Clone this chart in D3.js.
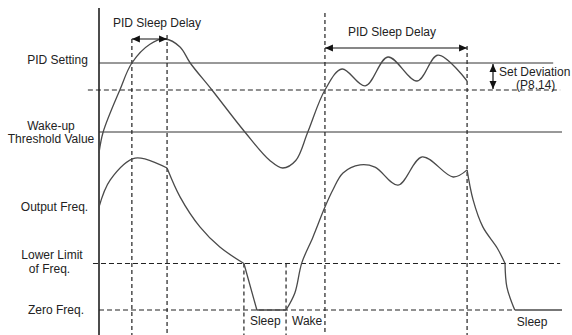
<!DOCTYPE html>
<html>
<head>
<meta charset="utf-8">
<script src="https://cdn.jsdelivr.net/npm/d3@7/dist/d3.min.js"></script>
<style>
  body { margin: 0; background: #fff; }
  text { font-family: "Liberation Sans", Arial, sans-serif; font-size: 12px; fill: #222; }
</style>
</head>
<body>
<div class="chart"></div>
<script>
var width = 572,
    height = 335;

// PID feedback (top trace), [time, level]
var pidFeedback = [[0, 2.0], [0.9, 3.4], [4.5, 6.2], [7.1, 8.0], [11.0, 9.25], [14.3, 9.6], [17.5, 9.07],
    [19.7, 8.0], [24.4, 6.2], [31.5, 3.4], [36.9, 1.5], [39.7, 1.0], [42.5, 1.5], [45.1, 3.4],
    [48.8, 6.2], [52.5, 7.6], [57.5, 6.47], [62.4, 8.4], [68.7, 6.8], [73.2, 8.53], [79.5, 6.8]];

// output frequency (bottom trace), [time, Hz], piece by piece
var outRun = [[0, 33.2], [2.4, 41.9], [7.8, 49.0], [14.7, 45.8]];
var outDecel1 = [[14.7, 45.8], [17.5, 36.5], [21.8, 26.8], [26.1, 20.3], [31.3, 15.0]];
var outSleep1 = [[31.3, 15.0], [34.1, 0], [40.4, 0]];
var outWake = [[40.4, 0], [42.3, 5.5], [43.8, 15.2], [46.2, 23.5], [48.8, 33.2], [50.5, 38.7],
    [52.7, 44.2], [56.4, 46.8], [59.6, 46.1], [64.6, 40.3], [69.8, 49.4], [76.5, 42.9], [79.5, 45.2]];
var outDecel2 = [[79.5, 45.2], [80.8, 35.5], [82.9, 26.8], [86.0, 20.0], [87.7, 15.0]];
var outSleep2 = [[87.7, 15.0], [88.1, 7.4], [89.8, 0]];
var outIdle = [[89.8, 0], [100, 0]];

// levels
var pidSetting = 8.0,
    deviationLow = 6.2,
    wakeThreshold = 3.4,
    lowerLimit = 15,
    zeroFreq = 0;

// event times
var delayStart1 = 7.1,
    sleepCmd1 = 14.7,
    sleepHit = 31.3,
    wakeTime = 40.4,
    delayStart2 = 48.8,
    sleepCmd2 = 79.5,
    stopTime = 89.8;

var x = d3.scaleLinear().domain([0, 100]).range([99, 562]),
    yPid = d3.scaleLinear().domain([0, 10]).range([183, 33]),
    yFreq = d3.scaleLinear().domain([0, 50]).range([310, 155]);

var svg = d3.select(".chart").append("svg")
    .attr("width", width)
    .attr("height", height);

var defs = svg.append("defs");
defs.append("marker")
    .attr("id", "head")
    .attr("viewBox", "0 -4 8 8")
    .attr("refX", 8).attr("refY", 0)
    .attr("markerUnits", "userSpaceOnUse")
    .attr("markerWidth", 8).attr("markerHeight", 8)
    .attr("orient", "auto-start-reverse")
    .append("path")
    .attr("d", "M0,-3.5L8,0L0,3.5Z")
    .attr("fill", "#111");

// vertical axis
svg.append("line")
    .attr("x1", x(0)).attr("x2", x(0))
    .attr("y1", 8).attr("y2", height)
    .attr("stroke", "#111").attr("stroke-width", 1.5);

// level lines
function hline(y, t0, t1, dashed) {
    svg.append("line")
        .attr("x1", x(t0)).attr("x2", x(t1))
        .attr("y1", y).attr("y2", y)
        .attr("stroke", dashed ? "#222" : "#333")
        .attr("stroke-width", dashed ? 1.2 : 1)
        .attr("stroke-dasharray", dashed ? "5,3" : null);
}
hline(yPid(pidSetting), 0, 98.1, false);
hline(yPid(deviationLow), -2.4, 99.6, true);
hline(yPid(wakeThreshold), 0, 100, false);
hline(yFreq(lowerLimit), -1.3, 99.6, true);
hline(yFreq(zeroFreq), 0, stopTime, true);

// event markers
function vline(t, top) {
    svg.append("line")
        .attr("x1", x(t)).attr("x2", x(t))
        .attr("y1", top).attr("y2", height)
        .attr("stroke", "#222").attr("stroke-width", 1.2)
        .attr("stroke-dasharray", "4,3");
}
vline(delayStart1, yPid(9.6));
vline(sleepCmd1, yPid(9.87));
vline(sleepHit, yFreq(lowerLimit));
vline(wakeTime, yFreq(lowerLimit));
vline(delayStart2, yPid(11.33));
vline(sleepCmd2, yPid(9.13));

// traces
var pidLine = d3.line()
    .x(function(d) { return x(d[0]); })
    .y(function(d) { return yPid(d[1]); })
    .curve(d3.curveCatmullRom.alpha(0.5));
var freqSmooth = d3.line()
    .x(function(d) { return x(d[0]); })
    .y(function(d) { return yFreq(d[1]); })
    .curve(d3.curveCatmullRom.alpha(0.5));
var freqStraight = d3.line()
    .x(function(d) { return x(d[0]); })
    .y(function(d) { return yFreq(d[1]); });

svg.append("path").attr("class", "trace").attr("d", pidLine(pidFeedback));
[outRun, outDecel1, outWake, outDecel2, outSleep2].forEach(function(seg) {
    svg.append("path").attr("class", "trace").attr("d", freqSmooth(seg));
});
[outSleep1, outIdle].forEach(function(seg) {
    svg.append("path").attr("class", "trace").attr("d", freqStraight(seg));
});
svg.selectAll(".trace")
    .attr("fill", "none")
    .attr("stroke", "#4a4a4a")
    .attr("stroke-width", 1.3);

// arrows
function arrow(x1, y1, x2, y2) {
    svg.append("line")
        .attr("x1", x1).attr("y1", y1).attr("x2", x2).attr("y2", y2)
        .attr("stroke", "#111").attr("stroke-width", 1.2)
        .attr("marker-start", "url(#head)")
        .attr("marker-end", "url(#head)");
}
arrow(x(delayStart1), yPid(9.6), x(sleepCmd1), yPid(9.6));
arrow(x(delayStart2), yPid(9.0), x(sleepCmd2), yPid(9.0));
arrow(493, yPid(pidSetting) + 1, 493, yPid(deviationLow) - 1);

// texts
function label(txt, px, py, anchor) {
    svg.append("text")
        .attr("x", px).attr("y", py)
        .attr("text-anchor", anchor || "start")
        .text(txt);
}
label("PID Sleep Delay", 113, 27);
label("PID Sleep Delay", 348, 36);
label("Set Deviation", 499, 76);
label("(P8.14)", 516, 89);

label("PID Setting", 57.5, yPid(pidSetting) + 1, "middle");
label("Wake-up", 51, yPid(wakeThreshold) - 2, "middle");
label("Threshold Value", 51, yPid(wakeThreshold) + 11, "middle");
label("Output Freq.", 54.5, yFreq(outRun[0][1]) + 4, "middle");
label("Lower Limit", 52, yFreq(lowerLimit) - 4.5, "middle");
label("of Freq.", 49.5, yFreq(lowerLimit) + 9.5, "middle");
label("Zero Freq.", 56, yFreq(zeroFreq) + 4, "middle");

label("Sleep", x(sleepHit) + 6, 325);
label("Wake", x(wakeTime) + 6, 325);
label("Sleep", x(stopTime) + 2, 326);
</script>
</body>
</html>
